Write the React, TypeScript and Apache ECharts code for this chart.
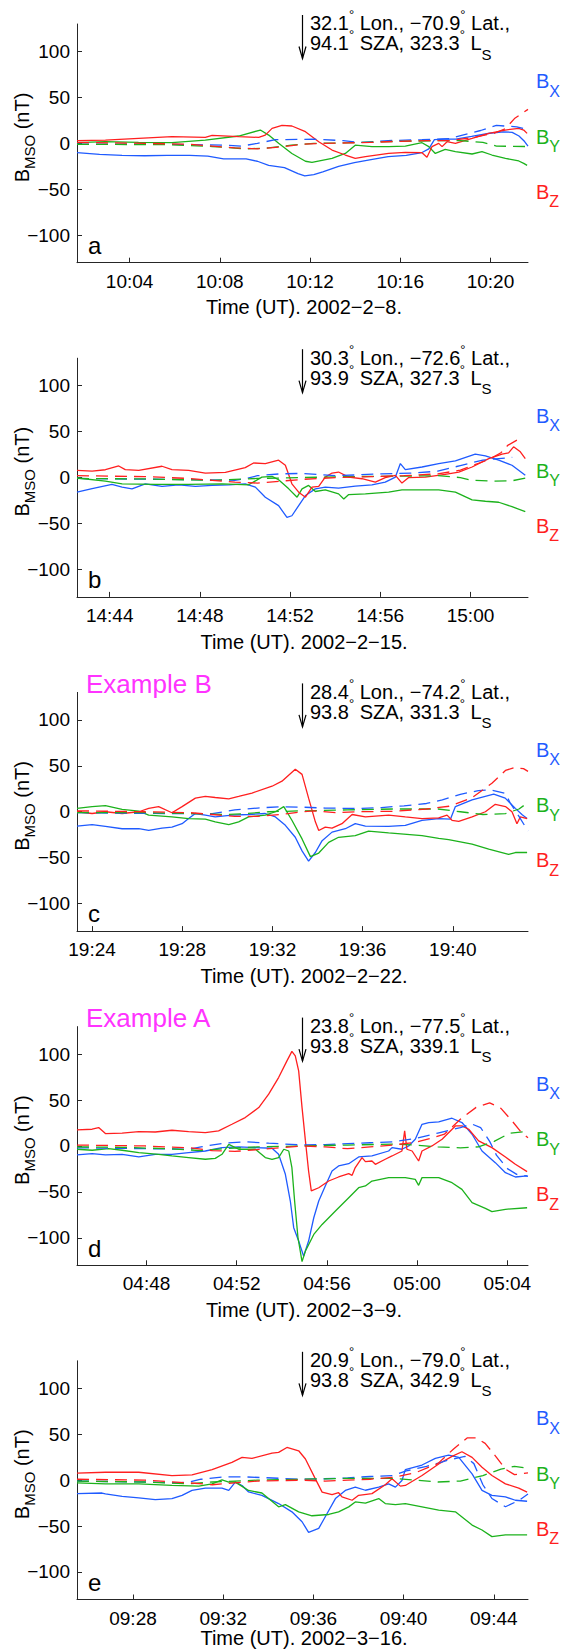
import React, { useEffect, useRef } from 'react';
import * as echarts from 'echarts';

const W = 561;
const H = 1649;
const FONT = "'Liberation Sans', Arial, Helvetica, sans-serif";

// ---- panel meta ----
const panelStarts = ['10:01:40', '14:42:33', '19:23:20', '04:44:55', '09:25:31'];
const panelTicks = [
  ['10:04', '10:08', '10:12', '10:16', '10:20'],
  ['14:44', '14:48', '14:52', '14:56', '15:00'],
  ['19:24', '19:28', '19:32', '19:36', '19:40'],
  ['04:48', '04:52', '04:56', '05:00', '05:04'],
  ['09:28', '09:32', '09:36', '09:40', '09:44'],
];
const panelDates = ['2002−2−8.', '2002−2−15.', '2002−2−22.', '2002−3−9.', '2002−3−16.'];
const panelLetters = ['a', 'b', 'c', 'd', 'e'];
const panelExamples = ['', '', 'Example B', 'Example A', ''];
const panelLon = ['32.1', '30.3', '28.4', '23.8', '20.9'];
const panelLat = ['−70.9', '−72.6', '−74.2', '−77.5', '−79.0'];
const panelSza = ['94.1', '93.9', '93.8', '93.8', '93.8'];
const panelLs = ['323.3', '327.3', '331.3', '339.1', '342.9'];
const yTicks = [-100, -50, 0, 50, 100];

// ---- data: [minutes after panel start, nT] ----
const aBx = [[0,-10],[1,-12],[2,-13],[3,-13.5],[4,-13],[5,-13],[5.8,-14],[6.5,-17],[7.5,-17],[8,-19.5],[8.5,-24],[9.2,-26.5],[9.8,-33],[10.1,-35.5],[10.5,-34],[10.9,-31],[11.6,-25],[12.3,-21],[13.1,-17.5],[13.8,-14.5],[14.6,-13],[15.3,-10],[15.6,-6],[15.85,4],[16.3,4.5],[16.8,4.5],[17.5,7.5],[18.3,11],[18.9,12.5],[19.3,12],[19.6,8],[19.85,2],[20,-3]];
const aBy = [[0,0.7],[1.26,1.8],[2.73,1],[4.21,0.7],[5.69,3.6],[7.17,8],[8.13,14.5],[8.5,9],[8.94,0],[9.53,-11],[10.13,-19.5],[10.42,-20.7],[11.31,-16.3],[11.9,-11],[12.34,-2],[13.08,-3.6],[13.82,-3.6],[14.56,-3],[15.3,0.7],[15.6,-3.6],[15.89,-11],[16.33,-6.5],[16.78,-9],[17.52,-11.6],[17.96,-9],[18.4,-12.7],[19,-16.3],[19.59,-19.2],[19.81,-21.8],[19.96,-24]];
const aBz = [[0,2.9],[1.26,3.6],[2.73,5.4],[4.21,7.3],[5.69,6.5],[5.99,8.7],[7.17,7.3],[8.06,6.5],[8.35,9],[8.65,16.3],[9.09,19.6],[9.53,18.9],[10.13,12.7],[10.72,1.8],[11.31,-7.3],[11.9,-12.7],[12.34,-16.3],[12.79,-14.5],[13.82,-11],[14.56,-9.8],[15.3,-10.2],[15.52,-15.2],[15.74,-3.6],[16.04,0],[16.19,-3.6],[16.41,1.8],[16.78,0],[17.52,5.4],[18.26,10.9],[18.99,14.5],[19.59,16.3],[19.81,14.5],[19.96,10.9]];
const aBxM = [[0,-1],[4,-1],[6.5,-2],[7.3,-3],[8,0],[8.8,4],[10.5,4.5],[11.8,3],[12.5,1],[13.8,3],[15.3,4],[16.5,5],[17.1,9],[17.9,14],[18.6,19.5],[19.5,18],[20,15]];
const aByM = [[0,-1],[4,-1.5],[6,-3.5],[7.5,-6],[8.5,-5],[9.5,-2],[10.5,0],[12,0.5],[14,2],[16,3],[17,3],[18,1],[18.6,-3],[20,-3.5]];
const aBzM = [[0,1],[3,0],[5,-1],[6,-3],[7,-5],[8,-6],[9,-4],[10,-1],[11,0],[12,0.5],[13,1],[14,2],[15.5,3],[16.5,3],[17.5,6],[18.5,11],[19,16],[19.4,27],[20,37]];

const bBx = [[0,-16],[0.67,-12],[1.55,-7.5],[2,-10.4],[2.44,-12.3],[3.03,-6.8],[3.77,-9.7],[4.51,-7.9],[5.25,-9.7],[5.99,-8.6],[6.73,-7.9],[7.46,-6.8],[7.91,-10.4],[8.35,-21.4],[8.94,-30.6],[9.31,-43.4],[9.53,-41.6],[10.13,-19.6],[10.57,-12.3],[11.01,-10.4],[11.6,-11.5],[12.34,-9.3],[13.08,-7.9],[13.67,-5],[14.12,0.5],[14.34,15.2],[14.56,8.6],[15.3,11.5],[16.04,15.2],[16.78,18.1],[17.66,25.5],[18.11,23.6],[18.7,18.9],[19.29,13.4],[19.88,2.4]];
const bBy = [[0,-0.5],[1.26,-3.8],[2,-6.8],[3.47,-7.5],[4.95,-7.5],[6.43,-6.8],[7.61,-7.9],[8.2,0.5],[8.65,1.3],[8.94,-2.4],[9.39,-12.3],[9.76,-21.4],[9.98,-12.3],[10.27,-8.6],[10.57,-15.2],[11.01,-13.4],[11.6,-17.8],[11.83,-23.3],[12.05,-18.5],[12.79,-17.8],[13.82,-15.9],[14.41,-13.4],[15.3,-13.5],[16.04,-13.4],[16.78,-15.9],[17.52,-24.4],[18.11,-25.8],[18.7,-26.9],[19.29,-31.7],[19.88,-37.2]];
const bBz = [[0,7.9],[0.67,7.1],[1.26,8.5],[1.85,12.6],[2.14,8.6],[2.74,7.9],[3.77,12.3],[4.21,8.6],[4.95,7.9],[5.69,4.9],[6.58,5.7],[7.46,10.8],[7.83,15.9],[8.35,15.2],[8.94,18.9],[9.24,13.4],[9.53,-6.8],[9.83,-15.9],[10.13,-21.4],[10.42,-10.4],[10.72,-9.7],[11.01,0.5],[11.31,4.9],[11.6,6],[12.05,0.5],[12.64,-1.3],[13.23,-4.9],[13.67,0],[14.12,2.4],[14.41,-6],[14.71,0],[15.45,0.5],[16.33,3.5],[16.93,6],[17.52,11.5],[18.26,20.7],[18.85,25.5],[19.14,26.9],[19.36,33.5],[19.66,28],[19.88,20.7]];
const bBxM = [[0,-1],[4,-2],[7,-3],[7.5,-1],[8,2],[9,4],[10,4.5],[11.5,2],[12.5,3],[13.5,4],[15,5],[16,7],[17,13],[18,19],[19.3,22]];
const bByM = [[0,-1],[3,-1.5],[6,-3],[8,-1],[10,0],[12,1],[14,1.5],[16,2],[17,0],[17.5,-3],[18.5,-4],[19.3,-3.5],[20,0]];
const bBzM = [[0,2],[3,1],[5,-1],[6,-3],[7,-5],[8,-6],[9,-4],[10,-2],[11.5,0],[13,1],[14.5,2],[16,4],[17,8],[18.3,20],[18.8,27],[19.1,35],[19.6,42]];

const cBx = [[0,-15.6],[0.67,-14],[1.26,-15.9],[2,-18.5],[2.74,-18.5],[3.18,-20.4],[3.77,-17.8],[4.21,-16.7],[4.66,-13],[4.95,-7.4],[5.25,-1.9],[5.69,-3.7],[6.13,-5.6],[6.87,-3.7],[7.61,-3],[8.35,-1.9],[8.8,-5.6],[9.24,-14.8],[9.68,-27.8],[9.98,-42.6],[10.27,-53.7],[10.57,-44.4],[10.87,-31.5],[11.31,-22.2],[11.9,-18.5],[12.34,-13],[12.79,-15.6],[13.82,-16],[14.56,-14.8],[15.3,-9.3],[16.04,-7.4],[16.56,-8.1],[16.78,5.6],[17.52,13],[18.48,19.3],[18.99,14.8],[19.44,3.7],[19.73,-3],[19.96,-7.4]];
const cBy = [[0,3.7],[0.67,5.6],[1.26,6.7],[2,2.6],[2.74,0.7],[3.18,-3.7],[4.21,-5.6],[4.95,-7.4],[5.69,-8],[6.13,-11],[6.73,-14],[7.17,-11],[7.61,-5.6],[8.35,-3.7],[8.8,0],[9.17,5.6],[9.53,-9.3],[9.98,-29.6],[10.35,-48.9],[10.72,-45],[11.16,-33.3],[11.6,-27.8],[12.34,-26],[12.93,-21.1],[13.82,-23],[15.3,-26],[16.04,-28.9],[16.48,-30.4],[17.52,-35.2],[18.26,-40.7],[19.14,-46.3],[19.44,-44.4],[19.96,-44.4]];
const cBz = [[0,0],[0.67,-1.9],[1.26,0],[2,-1.9],[2.74,0],[3.18,3.7],[3.62,5.6],[4.21,-1.1],[4.66,5.6],[5.25,14.8],[5.69,16.7],[6.13,15.5],[6.73,14.1],[7.17,16.7],[7.76,20.4],[8.65,27.8],[9.09,33.3],[9.68,46.3],[9.98,40.7],[10.27,14.8],[10.57,-11],[10.72,-20.4],[11.01,-16.7],[11.31,-17.8],[11.75,-13],[12.2,-3],[12.79,-5.6],[13.82,-3.7],[14.56,-5.6],[15.3,-7.4],[16.04,-6.7],[16.41,-3.7],[16.63,-9.3],[16.93,-10.4],[17.52,-5.6],[18.11,0],[18.55,8.1],[19,5.6],[19.29,0],[19.51,-13],[19.66,-5.6],[19.96,-7.4]];
const cBxM = [[0,-1],[4,-2],[6,-2],[7,2],[8,4],[9,5.5],[10,5],[11,4],[12.5,3.5],[13.5,4.5],[14.5,6.5],[15.5,9],[16.2,13],[17,19],[17.8,23],[18.3,24],[19,20],[19.2,10],[19.6,-5],[20,-21]];
const cByM = [[0,-1],[3,-1],[5,-2],[6.5,-3],[7.5,-2],[8.5,0],[10,1],[12,2],[14,3],[16,3],[17,0],[18,-3],[19,-2],[19.6,3],[20,10]];
const cBzM = [[0,1],[3,0],[5,-1],[6,-3],[7,-5],[8,-5],[9,-3],[10,0],[10.5,1],[11.5,-1],[12.5,0],[14,0.5],[15.5,3],[16.5,6],[17.5,15],[18.4,31],[19,45],[19.4,48],[19.8,47],[20,44]];

const dBx = [[0,-9.8],[0.67,-8.4],[1.26,-9.8],[2,-9.1],[2.74,-12],[3.47,-9.1],[4.21,-9.1],[4.95,-7.3],[5.69,-5.5],[6.43,-1.8],[7.17,-1.1],[7.91,-1.8],[8.65,-2.5],[8.94,-9.1],[9.24,-30.9],[9.46,-60],[9.61,-89],[9.83,-103.6],[10.05,-120],[10.27,-103.6],[10.5,-78.2],[10.72,-60],[11.01,-43.6],[11.31,-27.3],[11.6,-21.8],[12.05,-19.3],[12.49,-12],[13.08,-10.9],[13.82,-5.5],[13.97,-1.8],[14.41,-3.6],[14.71,0],[15,7.3],[15.3,23.6],[15.6,25.5],[16.04,26.2],[16.63,30.2],[17.07,25.5],[17.52,12.7],[17.96,-5.5],[18.55,-18.2],[19,-29.1],[19.44,-33.8],[19.96,-32.7]];
const dBy = [[0,-3.6],[0.67,-4.7],[1.4,-2.9],[2,-4.7],[2.74,-7.3],[3.62,-9.1],[4.21,-10.9],[4.95,-12.7],[5.69,-14.5],[6.13,-13.5],[6.43,-9.1],[6.73,1.8],[7.17,-3.6],[7.91,-3.6],[8.35,-12.7],[8.65,-14.5],[8.94,-12.7],[9.17,-3.6],[9.39,-5.5],[9.53,-23.6],[9.65,-60],[9.8,-100],[9.98,-126],[10.13,-114.5],[10.5,-96.4],[10.87,-85.5],[11.46,-70.9],[12.05,-56.4],[12.49,-45.5],[12.79,-43.6],[13.08,-38.2],[13.82,-34.5],[14.56,-34.5],[15,-36.4],[15.15,-42.9],[15.3,-34.5],[16.04,-34.5],[16.63,-40],[17.07,-47.3],[17.52,-61.8],[18.11,-68],[18.4,-71.6],[19,-69],[19.96,-67.3]];
const dBz = [[0,17.5],[0.67,18.2],[0.96,20],[1.26,13.5],[2,14],[2.74,15.6],[3.47,15.2],[4.21,17.1],[4.95,15.5],[5.69,14.5],[6.28,16.4],[6.87,23.6],[7.46,30.9],[8.06,41.8],[8.5,56.4],[8.94,74.5],[9.31,92.7],[9.53,103],[9.68,98],[9.83,81.8],[9.98,41.8],[10.13,5.5],[10.27,-27.3],[10.39,-49],[10.72,-45.5],[11.16,-38.2],[11.6,-33.8],[12.05,-30.2],[12.2,-32],[12.34,-23.6],[12.64,-12.7],[12.79,-17],[13.08,-16.4],[13.23,-20],[13.67,-14.5],[13.97,-10.9],[14.41,-5.5],[14.53,16.4],[14.63,-3.6],[14.86,-5.5],[15.15,-16.4],[15.3,-5.5],[15.74,0],[16.19,7.3],[16.78,21.8],[17.07,21.8],[17.37,18.2],[17.81,5.5],[18.4,-1.8],[19,-12],[19.44,-20],[19.96,-28]];
const dBxM = [[0,-2],[3,-3],[5,-3.5],[5.5,-1],[6.5,3],[7.5,4.5],[8.5,3],[10,1],[11,1.5],[12,2.5],[13,3.5],[14,4.5],[15,8],[16,14],[17,20],[17.5,24],[17.9,20],[18.3,5],[18.6,-10],[19.1,-25],[19.5,-31],[20,-33]];
const dByM = [[0,-1],[2,-1.5],[4,-3],[5.5,-5],[6.5,-3],[8,-1],[10,0],[12,1],[14,2],[15,1],[16,-1],[17,-2],[17.8,-1],[18.5,5],[19.2,14],[20,16]];
const dBzM = [[0,1],[3,0],[5,-2],[6,-5],[7,-6],[8,-4],[9,-2],[10,0],[11,-1],[12,-3],[13,-1],[14,1],[15,4],[15.8,9],[16.3,13],[17,29],[17.7,42],[18.3,47],[18.8,41],[19.3,27],[19.7,15],[20,9]];

const eBx = [[0,-14.7],[1.11,-14],[1.26,-15],[2,-17.6],[2.74,-19.4],[3.47,-21.2],[4.21,-20.1],[4.66,-16.5],[5.1,-11.2],[5.69,-8.6],[6.43,-8.6],[6.73,-11.2],[7.02,-2.2],[7.32,-5.8],[7.61,-12.9],[8.2,-16.5],[8.94,-25.5],[9.53,-34.5],[9.98,-45.3],[10.27,-56.8],[10.72,-52.5],[11.01,-39.9],[11.46,-20.1],[11.9,-11.2],[12.34,-7.6],[12.79,-11],[13.38,-7.6],[13.82,-4],[14.12,-7.6],[14.41,-0.4],[14.56,11.5],[15.3,16.5],[15.89,23.7],[16.48,27.3],[16.93,24.8],[17.52,6.8],[17.96,-11.2],[18.4,-16.5],[19,-18.3],[19.44,-21.9],[19.96,-23]];
const eBy = [[0,-2.9],[1.26,-4],[2.74,-4],[4.21,-5.8],[5.4,-6.5],[5.99,-4],[6.43,0.4],[6.73,-2.2],[7.02,-2.2],[7.32,-6.8],[7.61,-11.2],[8.2,-14],[8.94,-29.1],[9.24,-26.6],[9.83,-34.5],[10.42,-38.8],[11.16,-37.4],[11.6,-34.5],[12.05,-29.1],[12.34,-23.7],[12.79,-25],[13.38,-20.1],[13.67,-25.5],[14.12,-26.6],[14.56,-25.5],[15.3,-29.1],[16.04,-32.7],[16.78,-34.5],[17.52,-48.9],[17.96,-54.3],[18.4,-61.5],[19,-59.7],[19.96,-59.7]];
const eBz = [[0,7.6],[1.26,8.6],[2.74,8.6],[4.21,5],[5.1,5.8],[5.99,11.5],[6.87,19.4],[7.32,24.8],[7.76,23.7],[8.65,29.5],[8.94,30.2],[9.31,35.6],[9.83,32],[10.13,23],[10.57,1.4],[10.87,-13],[11.31,-15.8],[11.6,-13.7],[11.75,-18.3],[12.2,-21.9],[12.49,-16.5],[13.08,-14.7],[13.67,-5],[13.97,1.4],[14.34,-6.5],[14.56,-5.8],[15.3,5],[16.04,17.6],[16.63,25.9],[17.07,30.9],[17.52,24.8],[17.96,14],[18.4,5],[19,-4],[19.59,-8.6],[19.96,-13]];
const eBxM = [[0,-1],[3,-2],[4.5,-3],[5,-2],[5.5,1],[6.5,3.5],[7.5,3.5],[9,2],[10,1],[11,1.5],[12,2.5],[13,4],[14,5],[14.6,10],[15.5,15],[16.5,22],[17.2,26],[17.6,18],[18,-5],[18.4,-20],[19,-29],[19.6,-22],[20,-15]];
const eByM = [[0,-1],[3,-2],[5,-4],[6,-2],[8,0],[10,1],[12,2],[14,2],[15,0],[16,-2],[17,-1],[18,5],[18.8,12],[19.4,15],[20,13]];
const eBzM = [[0,1],[3,0],[5,-3],[6,-5],[7,-3],[8,-1],[10,0],[11,-1],[12,0],[13,1],[14,3],[15,8],[16,18],[16.7,34],[17.3,46],[17.7,46],[18.1,40],[18.5,28],[19,12],[19.4,6],[20,8]];

const panelData = [
  [aBx, aBy, aBz, aBxM, aByM, aBzM],
  [bBx, bBy, bBz, bBxM, bByM, bBzM],
  [cBx, cBy, cBz, cBxM, cByM, cBzM],
  [dBx, dBy, dBz, dBxM, dByM, dBzM],
  [eBx, eBy, eBz, eBxM, eByM, eBzM],
];

const BLUE = '#1f5bff';
const GREEN = '#1cb21c';
const RED = '#ff1f1f';
const MAGENTA = '#ff33ff';
const AXIS = '#262626';

// layout
const GL = 77;
const GW = 451;
const GH = 238.7;
const gTop = (i: number) => 24 + i * 334.2;

const toMin = (s: string) => {
  const p = s.split(':').map(Number);
  return p[0] * 60 + p[1] + (p[2] || 0) / 60;
};

function buildOption() {
  const grid: any[] = [];
  const xAxis: any[] = [];
  const yAxis: any[] = [];
  const series: any[] = [];
  const graphic: any[] = [];
  const colors = [BLUE, GREEN, RED];

  for (let i = 0; i < 5; i++) {
    const top = gTop(i);
    const bottom = top + GH;
    const zeroY = top + GH / 2;
    const start = toMin(panelStarts[i]);
    const tickVals = panelTicks[i].map(toMin);
    const tickLabels = panelTicks[i];

    grid.push({ left: GL, top, width: GW, height: GH, containLabel: false, outerBoundsMode: 'none' });
    xAxis.push({
      gridIndex: i,
      type: 'value',
      min: start,
      max: start + 20,
      axisLine: { show: true, onZero: false, lineStyle: { color: AXIS, width: 1 } },
      axisTick: { show: true, inside: true, length: 5, customValues: tickVals, lineStyle: { color: AXIS } },
      axisLabel: {
        customValues: tickVals,
        formatter: (v: number) => {
          const k = tickVals.findIndex((t) => Math.abs(t - v) < 1e-6);
          return k >= 0 ? tickLabels[k] : '';
        },
        fontSize: 19,
        fontFamily: FONT,
        color: '#000',
        margin: 9,
      },
      splitLine: { show: false },
    });
    yAxis.push({
      gridIndex: i,
      type: 'value',
      min: -130,
      max: 130,
      axisLine: { show: true, onZero: false, lineStyle: { color: AXIS, width: 1 } },
      axisTick: { show: true, inside: true, length: 5, customValues: yTicks, lineStyle: { color: AXIS } },
      axisLabel: {
        customValues: yTicks,
        formatter: (v: number) => (v < 0 ? '−' + Math.abs(v) : String(v)),
        fontSize: 19,
        fontFamily: FONT,
        color: '#000',
        margin: 7,
      },
      splitLine: { show: false },
    });

    panelData[i].forEach((arr, k) => {
      const dashed = k >= 3;
      series.push({
        type: 'line',
        xAxisIndex: i,
        yAxisIndex: i,
        data: arr.map((p) => [start + p[0], p[1]]),
        showSymbol: false,
        symbol: 'none',
        silent: true,
        z: dashed ? 3 : 2,
        lineStyle: { color: colors[k % 3], width: 1.3, type: dashed ? [12, 7] : 'solid' },
      });
    });

    // annotation text
    const mTok = (pad: number) => ({ fontSize: 20, fontFamily: FONT, fill: '#000', verticalAlign: 'top', padding: [pad, 0, 0, 0] });
    graphic.push({
      type: 'text', silent: true, x: 310, y: top - 15.7,
      style: {
        text: `{m|${panelLon[i]}}{d|°}{m| Lon., ${panelLat[i]}}{d|°}{m| Lat.,}`,
        rich: { m: mTok(5), d: { fontSize: 13, fontFamily: FONT, fill: '#000', verticalAlign: 'top', padding: [0, 0, 0, 0] } },
        align: 'left', verticalAlign: 'top',
      },
    });
    graphic.push({
      type: 'text', silent: true, x: 310, y: top + 4.3,
      style: {
        text: `{m|${panelSza[i]}}{d|°}{m| SZA, ${panelLs[i]}}{d|°}{m| L}{s|S}`,
        rich: {
          m: mTok(5),
          d: { fontSize: 13, fontFamily: FONT, fill: '#000', verticalAlign: 'top', padding: [0, 0, 0, 0] },
          s: { fontSize: 15, fontFamily: FONT, fill: '#000', verticalAlign: 'top', padding: [18.4, 0, 0, 0] },
        },
        align: 'left', verticalAlign: 'top',
      },
    });
    // arrow
    const ax = GL + GW / 2;
    const ay1 = top - 9;
    const ay2 = top + 34.5;
    graphic.push({ type: 'line', silent: true, shape: { x1: ax, y1: ay1, x2: ax, y2: ay2 }, style: { stroke: '#000', lineWidth: 1.2 } });
    graphic.push({ type: 'polyline', silent: true, shape: { points: [[ax - 3.5, ay2 - 12], [ax, ay2], [ax + 3.5, ay2 - 12]] }, style: { stroke: '#000', lineWidth: 1.2, fill: null } });

    // right labels
    const lab = (sub: string, color: string, cy: number) => ({
      type: 'text', silent: true, x: 536, y: cy - 10,
      style: {
        text: `{b|B}{s|${sub}}`,
        rich: {
          b: { fontSize: 20, fontFamily: FONT, fill: color, verticalAlign: 'top', padding: [0, 0, 0, 0] },
          s: { fontSize: 16, fontFamily: FONT, fill: color, verticalAlign: 'top', padding: [12, 0, 0, 0] },
        },
        align: 'left', verticalAlign: 'top',
      },
    });
    graphic.push(lab('X', BLUE, zeroY - 62));
    graphic.push(lab('Y', GREEN, zeroY - 6.6));
    graphic.push(lab('Z', RED, zeroY + 48.4));

    // y axis title
    graphic.push({
      type: 'text', silent: true, x: 24, y: top + 113.5, rotation: Math.PI / 2,
      style: {
        text: '{b|B}{s|MSO}{b| (nT)}',
        rich: {
          b: { fontSize: 20, fontFamily: FONT, fill: '#000', verticalAlign: 'top', padding: [0, 0, 0, 0] },
          s: { fontSize: 15, fontFamily: FONT, fill: '#000', verticalAlign: 'top', padding: [10, 0, 0, 0] },
        },
        align: 'center', verticalAlign: 'middle',
      },
    });
    // x axis title (last one nudged up slightly so it stays inside the page)
    graphic.push({
      type: 'text', silent: true, x: 304, y: Math.min(bottom + 44.6, H - 11),
      style: { text: 'Time (UT). ' + panelDates[i], fontSize: 20, fontFamily: FONT, fill: '#000', align: 'center', verticalAlign: 'middle' },
    });
    // panel letter
    graphic.push({
      type: 'text', silent: true, x: 88, y: bottom - 17.3,
      style: { text: panelLetters[i], fontSize: 24, fontFamily: FONT, fill: '#000', align: 'left', verticalAlign: 'middle' },
    });
    if (panelExamples[i]) {
      graphic.push({
        type: 'text', silent: true, x: 86, y: top + 0.7 - 9,
        style: { text: panelExamples[i], fontSize: 26, fontFamily: FONT, fill: MAGENTA, align: 'left', verticalAlign: 'middle' },
      });
    }
  }

  return {
    animation: false,
    backgroundColor: '#fff',
    grid,
    xAxis,
    yAxis,
    series,
    graphic: { elements: graphic },
  };
}

export default function App() {
  const ref = useRef<HTMLDivElement>(null);
  useEffect(() => {
    if (!ref.current) return;
    const chart = echarts.init(ref.current, undefined, { renderer: 'svg', width: W, height: H });
    chart.setOption(buildOption() as any);
    return () => chart.dispose();
  }, []);
  return (
    <div
      ref={ref}
      style={{ position: 'absolute', left: 0, top: 0, width: W, height: H, background: '#fff' }}
    />
  );
}
